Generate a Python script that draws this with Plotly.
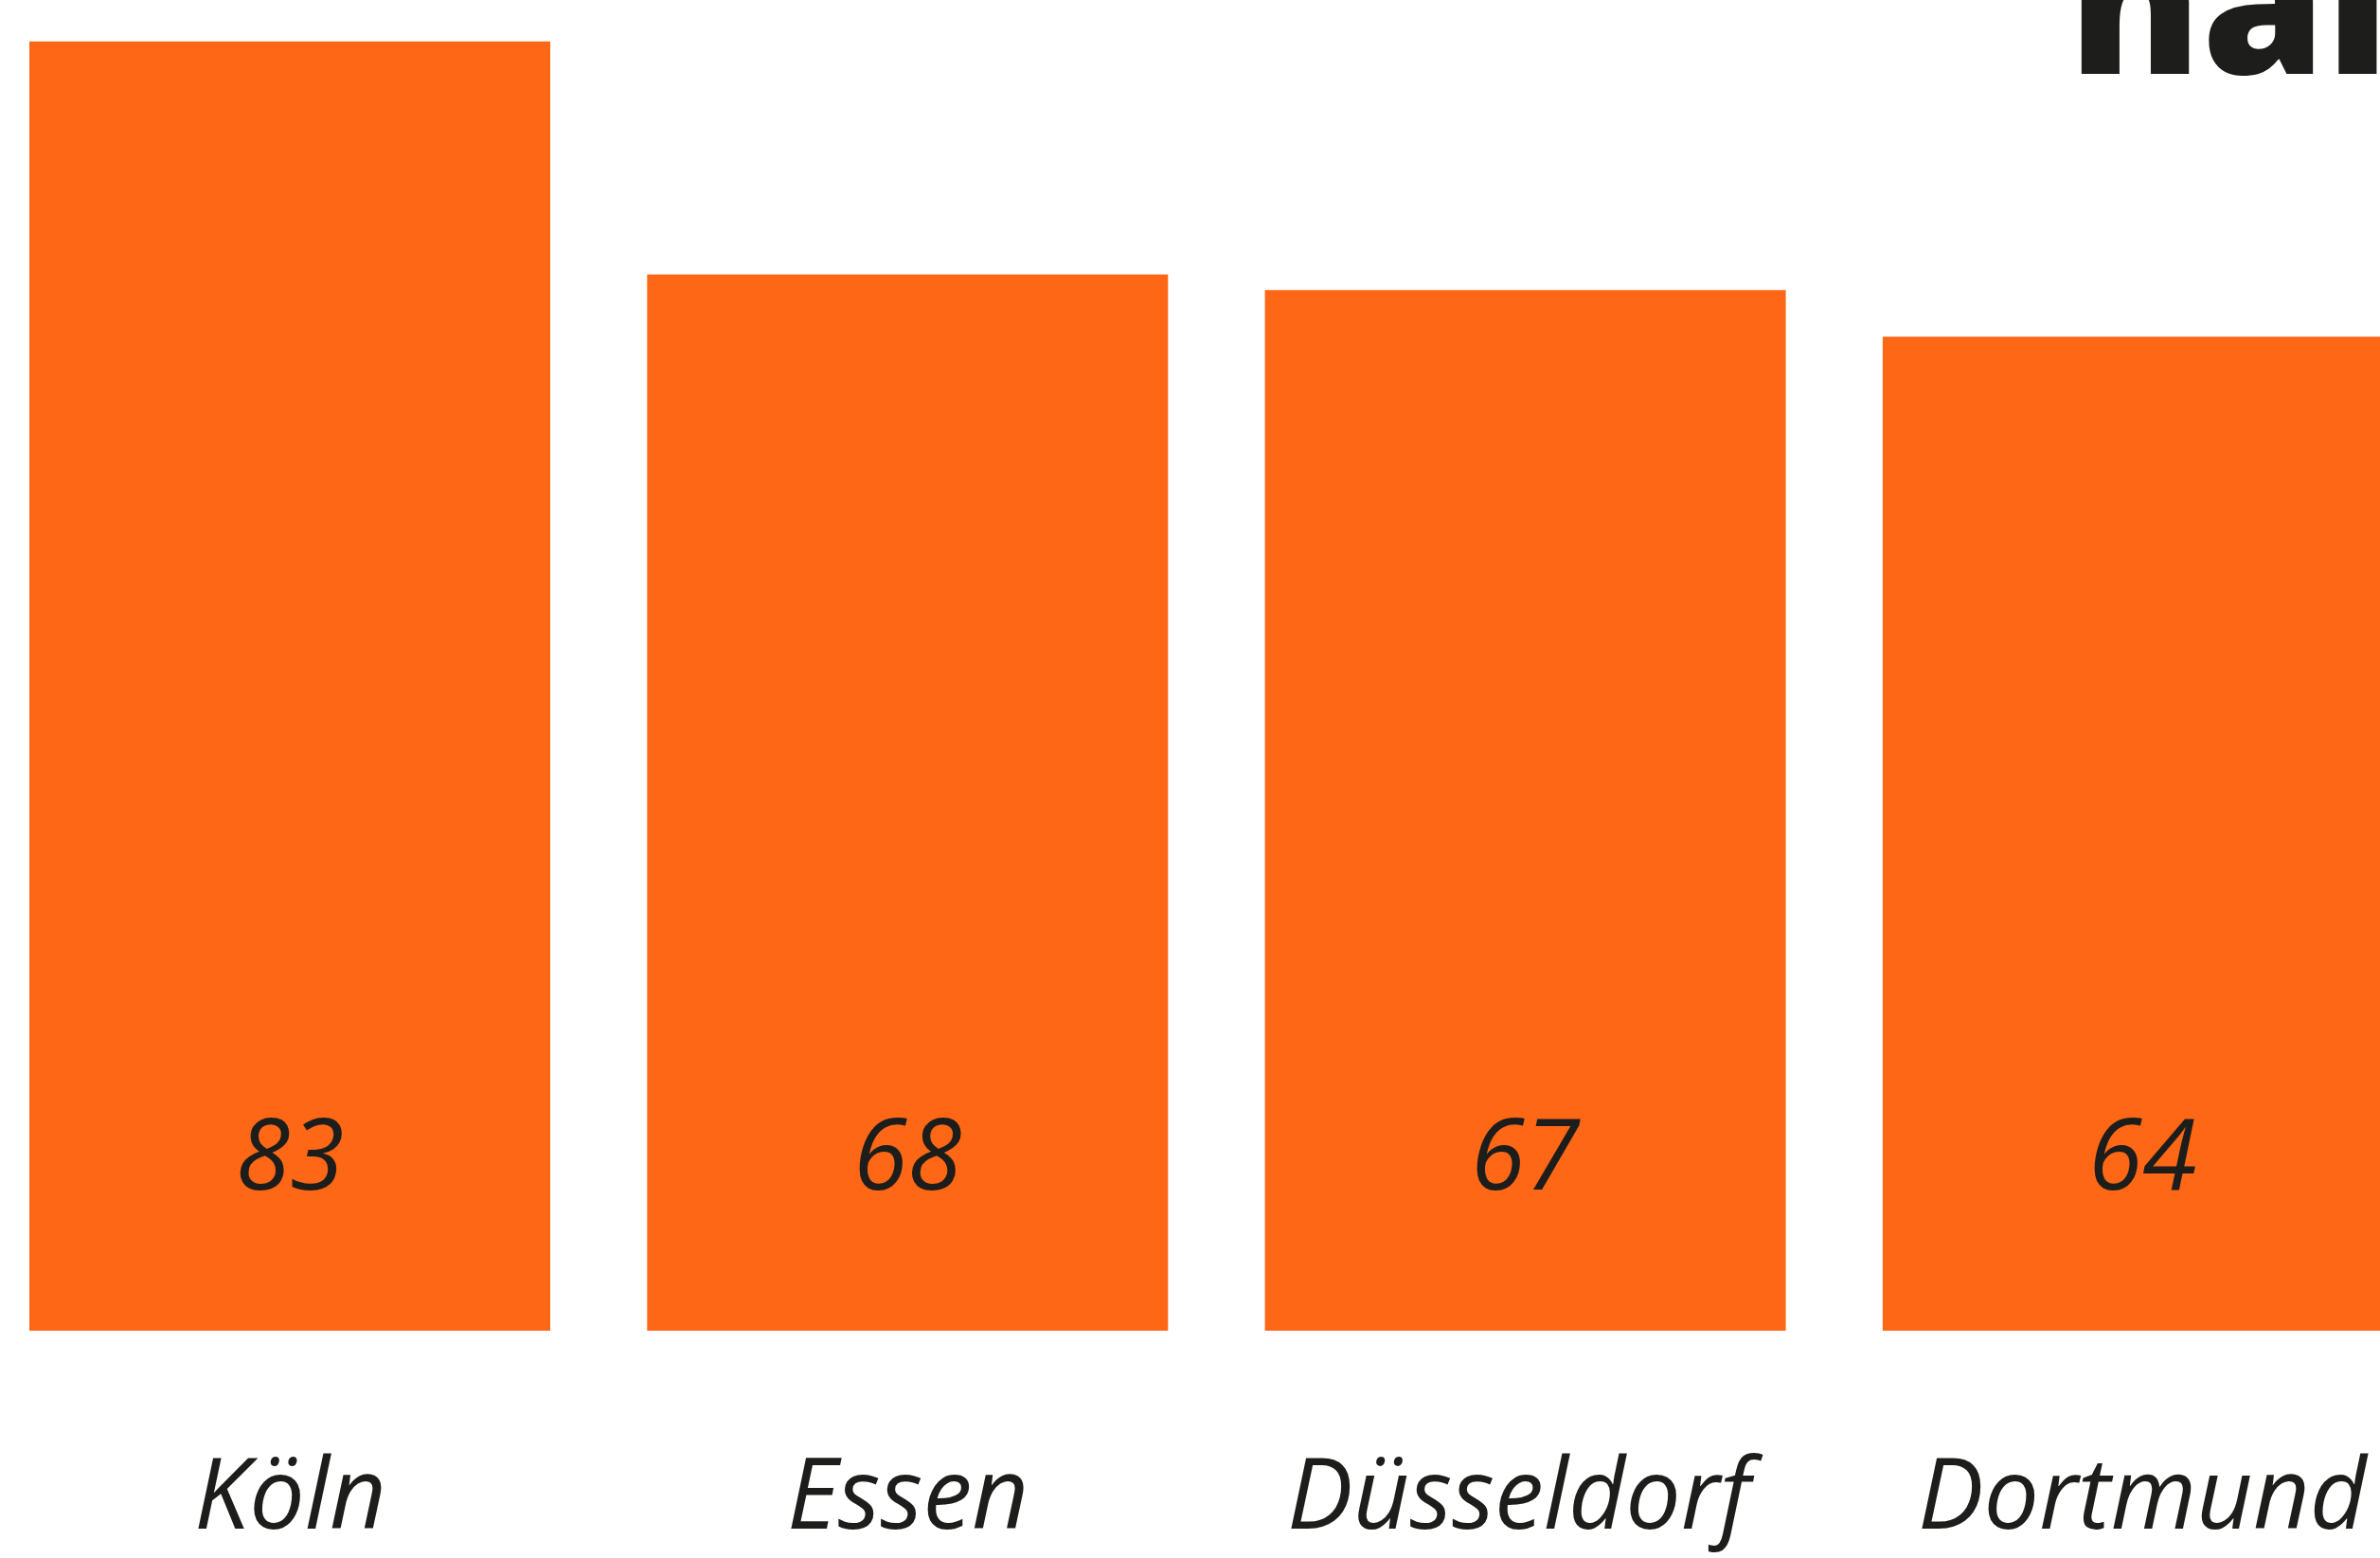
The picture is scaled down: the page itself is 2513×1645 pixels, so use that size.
import plotly.graph_objects as go

cities = ["Köln", "Essen", "Düsseldorf", "Dortmund"]
values = [83, 68, 67, 64]
title_fragment = "hal"

W, H = 2513, 1645
ORANGE = "#FE6715"
INK = "#1D1D1B"

base_px = 1405          # pixel row of y = 0
px_per_unit = 16.40
pitch = 652.3
first_center = 306.0

fig = go.Figure()
fig.add_trace(go.Bar(
    x=list(range(len(cities))), y=values,
    marker=dict(color=ORANGE, line=dict(width=0)),
    width=550 / pitch, hoverinfo="skip",
))

plot_h = base_px
for i, (c, v) in enumerate(zip(cities, values)):
    fig.add_annotation(x=i, y=(base_px - 1215) / px_per_unit, xref="x", yref="y",
                       text=str(v), showarrow=False,
                       font=dict(family="Open Sans", size=104, color=INK, style="italic"))
    fig.add_annotation(x=i, y=-(1573 - base_px) / plot_h, xref="x", yref="paper",
                       yanchor="middle", text=c, showarrow=False,
                       font=dict(family="Open Sans", size=104, color=INK, style="italic"))

# cropped title fragment at top right
fig.add_annotation(x=2182 / W, y=1 - 166 / H, xref="paper", yref="paper",
                   xanchor="left", yanchor="bottom", text=title_fragment, showarrow=False,
                   font=dict(family="Open Sans", size=210, color=INK, weight=800))

x0 = -first_center / pitch
fig.update_layout(
    width=W, height=H,
    margin=dict(l=0, r=0, t=0, b=H - base_px),
    paper_bgcolor="white", plot_bgcolor="white",
    showlegend=False,
    xaxis=dict(range=[x0, x0 + W / pitch], visible=False, fixedrange=True),
    yaxis=dict(range=[0, base_px / px_per_unit], visible=False, fixedrange=True),
)

fig.write_html("out.html", config={"displayModeBar": False},
               post_script="document.body.style.margin='0';document.body.style.overflow='hidden';")
